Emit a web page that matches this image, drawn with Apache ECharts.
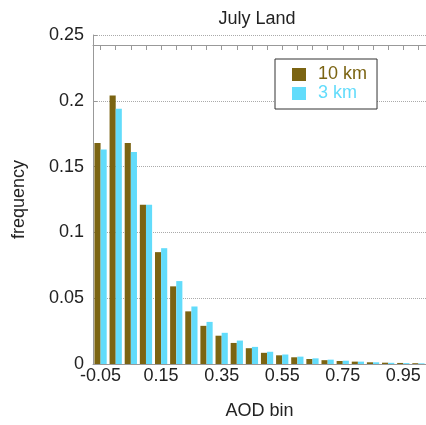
<!DOCTYPE html>
<html>
<head>
<meta charset="utf-8">
<script src="https://cdn.jsdelivr.net/npm/echarts@6/dist/echarts.min.js"></script>
<style>
  html, body { margin: 0; padding: 0; background: #fff; }
  #chart { width: 426px; height: 425px; }
</style>
</head>
<body>
<div id="chart"></div>
<script>
// AOD histogram bins (bin start values)
const aodBins = ["-0.05", "0.00", "0.05", "0.10", "0.15", "0.20", "0.25", "0.30", "0.35", "0.40", "0.45",
                 "0.50", "0.55", "0.60", "0.65", "0.70", "0.75", "0.80", "0.85", "0.90", "0.95", "1.00"];

// frequency per bin, 10 km retrieval
const freq10km = [0.168, 0.204, 0.168, 0.121, 0.085, 0.059, 0.040, 0.029, 0.0215, 0.016, 0.012,
                  0.0085, 0.0066, 0.0051, 0.0038, 0.0029, 0.0023, 0.0018, 0.0013, 0.0010, 0.0008, 0.0006];

// frequency per bin, 3 km retrieval
const freq3km = [0.163, 0.194, 0.161, 0.121, 0.088, 0.063, 0.0437, 0.032, 0.0237, 0.0178, 0.013,
                 0.0093, 0.0072, 0.0056, 0.0043, 0.0033, 0.0025, 0.0018, 0.0013, 0.0009, 0.0007, 0.0005];

const yTicks = { min: 0, max: 0.25, step: 0.05 };

const BROWN = '#7b6412';
const CYAN = '#62dcfb';
const FONT = 'Liberation Sans, Arial, Helvetica, sans-serif';

const chart = echarts.init(document.getElementById('chart'), null, { renderer: 'canvas' });

chart.setOption({
  animation: false,
  backgroundColor: '#ffffff',
  textStyle: { fontFamily: FONT },
  title: {
    text: 'July Land',
    left: 252,
    textAlign: 'center',
    top: 5,
    textStyle: { fontSize: 18, fontWeight: 'normal', color: '#222', fontFamily: FONT }
  },
  legend: {
    orient: 'vertical',
    left: 275,
    top: 59,
    backgroundColor: '#fff',
    borderColor: '#333',
    borderWidth: 1,
    padding: [6, 10, 6, 17],
    itemGap: 0,
    itemWidth: 14,
    itemHeight: 13,
    icon: 'rect',
    textStyle: { fontSize: 18, lineHeight: 19, fontFamily: FONT, padding: [0, 0, 0, 7] },
    data: [
      { name: '10 km', textStyle: { color: BROWN } },
      { name: '3 km', textStyle: { color: CYAN } }
    ]
  },
  grid: { left: 93, top: 35, right: -3, bottom: 60, containLabel: false },
  xAxis: [
    {
      type: 'category',
      data: aodBins,
      name: 'AOD bin',
      nameLocation: 'middle',
      nameGap: 38,
      nameTextStyle: { fontSize: 18, color: '#222', fontFamily: FONT },
      axisLine: { show: true, lineStyle: { color: '#999', width: 1 } },
      axisTick: { show: false },
      axisLabel: { interval: 3, fontSize: 18, color: '#222', margin: 3, fontFamily: FONT }
    },
    {
      // decorative top axis with a tick at every bin
      type: 'category',
      data: aodBins,
      position: 'top',
      offset: -10,
      axisLine: { show: true, lineStyle: { color: '#999', width: 1 } },
      axisTick: { show: true, inside: true, length: 5, alignWithLabel: true, interval: 0,
                  lineStyle: { color: '#999' } },
      axisLabel: { show: false }
    }
  ],
  yAxis: {
    type: 'value',
    min: yTicks.min,
    max: yTicks.max,
    interval: yTicks.step,
    name: 'frequency',
    nameLocation: 'middle',
    nameGap: 65,
    nameTextStyle: { fontSize: 18, color: '#222', fontFamily: FONT },
    axisLine: { show: true, lineStyle: { color: '#999', width: 1 } },
    axisTick: { show: true, inside: true, length: 4, lineStyle: { color: '#999' } },
    axisLabel: { fontSize: 18, color: '#222', margin: 9, fontFamily: FONT },
    splitLine: { show: true, lineStyle: { color: '#aaa', type: [1, 1], width: 1 } }
  },
  series: [
    {
      name: '10 km',
      type: 'bar',
      data: freq10km,
      barGap: '0%',
      barCategoryGap: '19%',
      itemStyle: { color: BROWN }
    },
    {
      name: '3 km',
      type: 'bar',
      data: freq3km,
      itemStyle: { color: CYAN }
    }
  ]
});
</script>
</body>
</html>
